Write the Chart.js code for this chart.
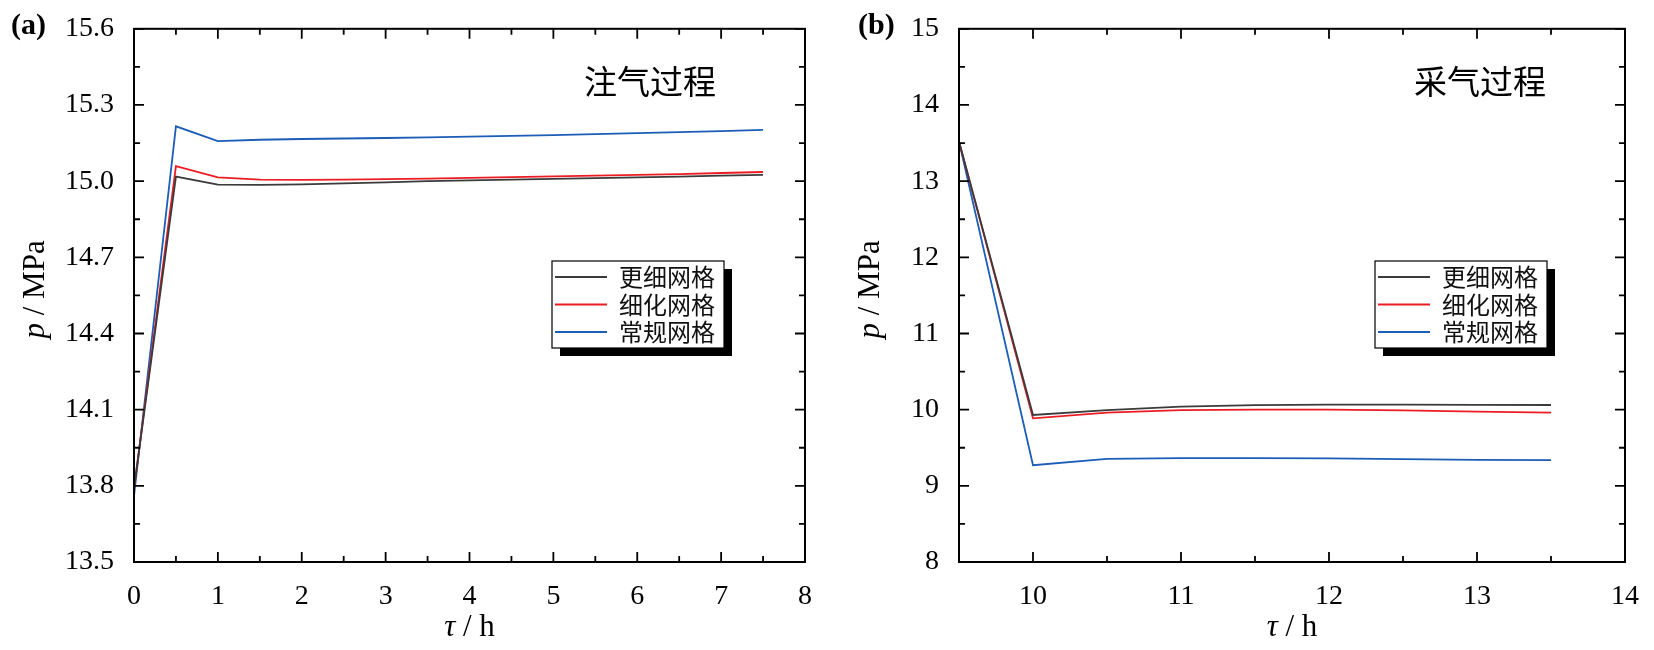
<!DOCTYPE html>
<html>
<head>
<meta charset="utf-8">
<script src="https://cdn.jsdelivr.net/npm/chart.js@4.4.1/dist/chart.umd.min.js"></script>
<style>
  html, body { margin: 0; padding: 0; background: #fff; }
  #wrap { position: relative; width: 1654px; height: 650px; }
  canvas { position: absolute; top: 0; }
  #chartA { left: 0; }
  #chartB { left: 827px; }
</style>
</head>
<body>
<div id="wrap">
  <canvas id="chartA" width="827" height="650"></canvas>
  <canvas id="chartB" width="827" height="650"></canvas>
</div>
<script>
// ---- data: injection (a) ----
var timeA = [0, 0.5, 1, 1.5, 2, 2.5, 3, 3.5, 4, 4.5, 5, 5.5, 6, 6.5, 7, 7.5];
var finerA = [13.79, 15.018, 14.986, 14.985, 14.987, 14.991, 14.995, 15.0, 15.003, 15.006, 15.009, 15.012, 15.015, 15.018, 15.022, 15.025];
var refinedA = [13.79, 15.059, 15.015, 15.006, 15.005, 15.006, 15.008, 15.010, 15.013, 15.016, 15.019, 15.022, 15.025, 15.028, 15.032, 15.036];
var normalA = [13.76, 15.216, 15.158, 15.163, 15.166, 15.168, 15.170, 15.172, 15.175, 15.178, 15.181, 15.185, 15.189, 15.193, 15.197, 15.202];

// ---- data: production (b) ----
var timeB = [9.5, 10, 10.5, 11, 11.5, 12, 12.5, 13, 13.5];
var finerB = [13.52, 9.93, 9.995, 10.04, 10.06, 10.065, 10.065, 10.063, 10.061];
var refinedB = [13.52, 9.885, 9.96, 9.995, 10.0, 10.0, 9.99, 9.975, 9.962];
var normalB = [13.52, 9.27, 9.355, 9.365, 9.365, 9.36, 9.35, 9.34, 9.338];

// ---- ticks ----
var xMajorA = [0, 1, 2, 3, 4, 5, 6, 7, 8];
var xMinorA = [0.5, 1.5, 2.5, 3.5, 4.5, 5.5, 6.5, 7.5];
var yMajorA = [13.5, 13.8, 14.1, 14.4, 14.7, 15.0, 15.3, 15.6];
var yMinorA = [13.65, 13.95, 14.25, 14.55, 14.85, 15.15, 15.45];
var xMajorB = [10, 11, 12, 13, 14];
var xMinorB = [10.5, 11.5, 12.5, 13.5];
var yMajorB = [8, 9, 10, 11, 12, 13, 14, 15];
var yMinorB = [8.5, 9.5, 10.5, 11.5, 12.5, 13.5, 14.5];

var seriesNames = ['更细网格', '细化网格', '常规网格'];
var seriesColors = ['#3b3b3b', '#ec1c24', '#1c5db8'];

var serif = "'Liberation Serif', 'Times New Roman', serif";
var cjk = "'Noto Sans CJK SC', sans-serif";

function points(t, v) {
    return t.map(function (x, i) { return { x: x, y: v[i] }; });
}

// frame, inward ticks, titles and legend
function makeDeco(cfg) {
    return {
        id: 'deco',
        afterDraw: function (chart) {
            var ctx = chart.ctx;
            var a = chart.chartArea;
            var xs = chart.scales.x, ys = chart.scales.y;
            ctx.save();
            ctx.strokeStyle = '#000';
            ctx.lineWidth = 2;
            ctx.strokeRect(a.left, a.top, a.right - a.left, a.bottom - a.top);

            ctx.lineWidth = 1.8;
            function tickX(vals, len) {
                vals.forEach(function (v) {
                    var px = xs.getPixelForValue(v);
                    ctx.beginPath();
                    ctx.moveTo(px, a.bottom); ctx.lineTo(px, a.bottom - len);
                    ctx.moveTo(px, a.top); ctx.lineTo(px, a.top + len);
                    ctx.stroke();
                });
            }
            function tickY(vals, len) {
                vals.forEach(function (v) {
                    var py = ys.getPixelForValue(v);
                    ctx.beginPath();
                    ctx.moveTo(a.left, py); ctx.lineTo(a.left + len, py);
                    ctx.moveTo(a.right, py); ctx.lineTo(a.right - len, py);
                    ctx.stroke();
                });
            }
            tickX(cfg.xMajor, 10); tickX(cfg.xMinor, 6);
            tickY(cfg.yMajor, 10); tickY(cfg.yMinor, 6);

            ctx.fillStyle = '#000';
            ctx.textBaseline = 'middle';

            // mixed italic / upright text
            function mixed(parts, cx, cy) {
                var w = 0;
                parts.forEach(function (p) { ctx.font = p[1]; w += ctx.measureText(p[0]).width; });
                var x = cx - w / 2;
                ctx.textAlign = 'left';
                parts.forEach(function (p) {
                    ctx.font = p[1];
                    ctx.fillText(p[0], x, cy);
                    x += ctx.measureText(p[0]).width;
                });
            }

            // y title
            ctx.save();
            ctx.translate(cfg.yTitleX, (a.top + a.bottom) / 2 - 6);
            ctx.rotate(-Math.PI / 2);
            mixed([['p', 'italic 31px ' + serif], [' / MPa', '31px ' + serif]], 0, 0);
            ctx.restore();

            // x title
            mixed([['τ', 'italic 31px ' + serif], [' / h', '31px ' + serif]], (a.left + a.right) / 2, 628);

            // panel label
            ctx.textAlign = 'left';
            ctx.font = 'bold 30px ' + serif;
            ctx.fillText(cfg.panel, cfg.panelX, 26);

            // process label
            ctx.textAlign = 'center';
            ctx.font = '33px ' + cjk;
            ctx.fillText(cfg.process, cfg.processX, 81);

            // legend with shadow
            var L = cfg.legend;
            ctx.fillStyle = '#000';
            ctx.fillRect(L.x + 8, L.y + 8, L.w, L.h);
            ctx.fillStyle = '#fff';
            ctx.fillRect(L.x, L.y, L.w, L.h);
            ctx.strokeStyle = '#000';
            ctx.lineWidth = 1.2;
            ctx.strokeRect(L.x, L.y, L.w, L.h);
            ctx.font = '24px ' + cjk;
            ctx.textAlign = 'left';
            seriesNames.forEach(function (name, i) {
                var ry = L.y + 16 + i * 27.5;
                ctx.strokeStyle = seriesColors[i];
                ctx.lineWidth = 1.8;
                ctx.beginPath();
                ctx.moveTo(L.x + 3, ry); ctx.lineTo(L.x + 55, ry);
                ctx.stroke();
                ctx.fillStyle = '#111';
                ctx.fillText(name, L.x + 67, ry);
            });
            ctx.restore();
        }
    };
}

function makeChart(id, t, series, sc, cfg) {
    var ctx = document.getElementById(id).getContext('2d');
    new Chart(ctx, {
        type: 'line',
        data: {
            datasets: series.map(function (v, i) {
                return {
                    label: seriesNames[i],
                    data: points(t, v),
                    borderColor: seriesColors[i],
                    borderWidth: 1.8,
                    pointRadius: 0,
                    tension: 0,
                    fill: false
                };
            })
        },
        options: {
            responsive: false,
            animation: false,
            layout: { padding: { left: 0, top: 23, right: sc.right, bottom: 0 } },
            plugins: { legend: { display: false }, tooltip: { enabled: false } },
            scales: {
                x: {
                    type: 'linear',
                    min: sc.xmin, max: sc.xmax,
                    afterBuildTicks: function (s) { s.ticks = cfg.xMajor.map(function (v) { return { value: v }; }); },
                    afterFit: function (s) { s.height = 88; },
                    grid: { display: false },
                    border: { display: false },
                    ticks: {
                        autoSkip: false, maxRotation: 0, padding: 10,
                        color: '#000', font: { family: serif, size: 28 },
                        callback: function (v) { return String(v); }
                    }
                },
                y: {
                    type: 'linear',
                    min: sc.ymin, max: sc.ymax,
                    afterBuildTicks: function (s) { s.ticks = cfg.yMajor.map(function (v) { return { value: v }; }); },
                    afterFit: function (s) { s.width = sc.left; },
                    grid: { display: false },
                    border: { display: false },
                    ticks: {
                        autoSkip: false, padding: 12,
                        color: '#000', font: { family: serif, size: 28 },
                        callback: function (v) { return sc.dec ? v.toFixed(1) : String(v); }
                    }
                }
            }
        },
        plugins: [makeDeco(cfg)]
    });
}

makeChart('chartA', timeA, [finerA, refinedA, normalA],
    { xmin: 0, xmax: 8, ymin: 13.5, ymax: 15.6, left: 134, right: 22, dec: true },
    { xMajor: xMajorA, xMinor: xMinorA, yMajor: yMajorA, yMinor: yMinorA,
      yTitleX: 36, panel: '(a)', panelX: 11, process: '注气过程', processX: 650,
      legend: { x: 552, y: 261, w: 172, h: 87 } });

makeChart('chartB', timeB, [finerB, refinedB, normalB],
    { xmin: 9.5, xmax: 14, ymin: 8, ymax: 15, left: 132, right: 29, dec: false },
    { xMajor: xMajorB, xMinor: xMinorB, yMajor: yMajorB, yMinor: yMinorB,
      yTitleX: 44, panel: '(b)', panelX: 31, process: '采气过程', processX: 653,
      legend: { x: 548, y: 261, w: 172, h: 87 } });
</script>
</body>
</html>
